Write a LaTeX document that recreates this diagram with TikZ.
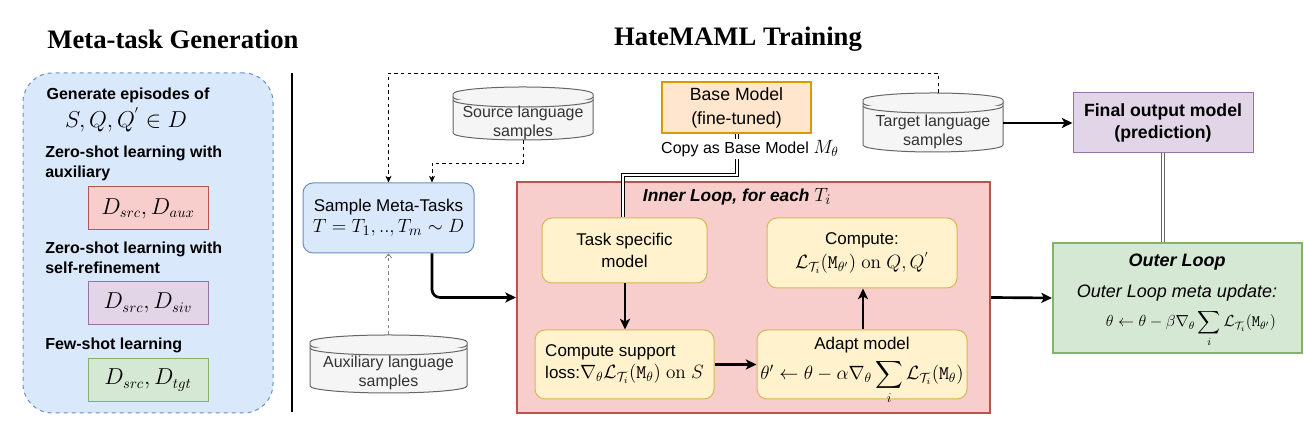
\documentclass[tikz,border=0pt]{standalone}
\usepackage[no-math]{fontspec}
\setmainfont{Liberation Sans}
\newfontfamily\titlefont{Liberation Serif}
\usepackage{amsmath}
\usetikzlibrary{arrows.meta,calc}
\definecolor{bluef}{HTML}{DAE8FC}\definecolor{blued}{HTML}{6C8EBF}
\definecolor{redf}{HTML}{F8CECC}\definecolor{redd}{HTML}{B85450}
\definecolor{purf}{HTML}{E1D5E7}\definecolor{purd}{HTML}{9673A6}
\definecolor{grnf}{HTML}{D5E8D4}\definecolor{grnd}{HTML}{82B366}
\definecolor{orgf}{HTML}{FFE6CC}\definecolor{orgd}{HTML}{D79B00}
\definecolor{yelf}{HTML}{FFF2CC}\definecolor{yeld}{HTML}{D6B656}
\definecolor{grayf}{HTML}{F5F5F5}\definecolor{grayd}{HTML}{666666}
\definecolor{grayt}{HTML}{333333}
\newcommand\dbcyl[6]{%
  \pgfmathsetmacro\cxl{#2-#4/2}\pgfmathsetmacro\cxr{#2+#4/2}%
  \pgfmathsetmacro\cyt{#3+#5/2}\pgfmathsetmacro\cyb{#3-#5/2}%
  \pgfmathsetmacro\crx{#4/2}%
  \filldraw[cylsty] (\cxl,\cyt-7) -- (\cxl,\cyb+7) arc[start angle=180,end angle=360,x radius=\crx,y radius=7] -- (\cxr,\cyt-7) arc[start angle=0,end angle=180,x radius=\crx,y radius=7] -- cycle;
  \draw[cylsty] (\cxl,\cyt-10) arc[start angle=180,end angle=360,x radius=\crx,y radius=7];
  \draw[cylsty] (\cxl,\cyt-13) arc[start angle=180,end angle=360,x radius=\crx,y radius=7];
  \node[sz={#4}{#5}, inner sep=0pt] (#1) at (#2,#3) {};
  \node[cyltext] (#1-t) at (#2,#3-9) {#6};
}
\begin{document}
\begin{tikzpicture}[x=0.75pt,y=0.75pt,
  sz/.style 2 args={minimum width=#1*0.75pt, minimum height=#2*0.75pt},
  cylsty/.style={draw=grayd, fill=grayf, line width=0.75pt},
  cyltext/.style={inner sep=0pt, align=center, text=grayt, font=\fontsize{12}{14.3}\selectfont},
  box/.style={draw, line width=0.75pt, align=center, inner sep=0pt, font=\fontsize{12.75}{16.5}\selectfont},
  ybox/.style={box, fill=yelf, draw=yeld, rounded corners=7.5pt},
  dbox/.style={box, sz={120}{43}, font=\fontsize{16}{19}\selectfont},
  lbold/.style={inner sep=0pt, font=\bfseries\fontsize{12}{15}\selectfont},
  thick arrow/.style={line width=2pt, -{Stealth[length=8pt,width=7.5pt,inset=2pt]}},
  dash arrow/.style={line width=0.6pt, dash pattern=on 2.5pt off 2.5pt, -{Stealth[length=5pt,width=4.5pt,inset=1.5pt]}},
  dbl/.style={double, double distance=2pt, line width=0.6pt}
]
\useasboundingbox (0,0) rectangle (1304,441);
% titles
\node[font=\titlefont\bfseries\fontsize{20}{24}\selectfont, inner sep=0pt] (t1) at (173,402) {Meta-task Generation};
\node[font=\titlefont\bfseries\fontsize{20}{24}\selectfont, inner sep=0pt] (t2) at (738,402) {HateMAML Training};
% left panel
\node[draw=blued, fill=bluef, dashed, line width=0.75pt, rounded corners=22pt, sz={250}{340}] (panel) at (148,198) {};
\node[lbold] (gen) at (128,346) {Generate episodes of};
\node[inner sep=0pt, font=\fontsize{16}{19}\selectfont] (gmath) at (126,321) {$S,Q,Q^{'}\in D$};
\node[lbold, anchor=west, align=left] (zs1) at (45,278) {Zero-shot learning with\\auxiliary};
\node[dbox, fill=redf, draw=redd] (daux) at (148,232.5) {$D_{src},D_{aux}$};
\node[lbold, anchor=west, align=left] (zs2) at (45,183) {Zero-shot learning with\\self-refinement};
\node[dbox, fill=purf, draw=purd] (dsiv) at (148,138) {$D_{src},D_{siv}$};
\node[lbold, anchor=west] (fs) at (45,96) {Few-shot learning};
\node[dbox, fill=grnf, draw=grnd] (dtgt) at (148,61) {$D_{src},D_{tgt}$};
% separator
\coordinate (sepT) at (292,368);
\coordinate (sepB) at (292,29);
\draw[line width=1.5pt] (sepT) -- (sepB);
% sample meta tasks
\node[box, fill=bluef, draw=blued, rounded corners=7.5pt, sz={171}{70}] (sample) at (388.5,223) {Sample Meta-Tasks\\[-1pt]{\fontsize{15}{17}\selectfont $T=T_1,..,T_m\sim D$}};
% cylinders
\dbcyl{src}{523}{327.5}{140}{53}{Source language\\samples}
\dbcyl{aux}{388.5}{77}{157}{58}{Auxiliary language\\samples}
\dbcyl{tgt}{933}{318.5}{140}{59}{Target language\\samples}
% base model
\node[box, fill=orgf, draw=orgd, line width=1.5pt, sz={149}{51}, font=\fontsize{13.25}{18}\selectfont] (base) at (736.5,333.5) {Base Model\\(fine-tuned)};
% final output
\node[box, fill=purf, draw=purd, sz={180}{60}, font=\bfseries\fontsize{13.25}{16.5}\selectfont] (final) at (1163,318) {Final output model\\(prediction)};
% inner loop
\node[box, fill=redf, draw=redd, line width=1.5pt, sz={473}{231}] (inner) at (753.5,143.5) {};
\node[inner sep=0pt, font=\bfseries\itshape\fontsize{13}{15}\selectfont] (intitle) at (737,244) {Inner Loop, for each {\fontsize{15}{15}\selectfont$T_i$}};
\node[ybox, sz={165}{65}] (task) at (624.5,190.5) {Task specific\\model};
\node[ybox, sz={190}{70}] (comp) at (862,188) {Compute:\\[2pt]{\fontsize{14}{16}\selectfont$\mathcal{L}_{\mathcal{T}_i}(\mathtt{M}_{\theta'})\ \mathrm{on}\ Q,Q^{'}$}};
\node[ybox, sz={179}{69}, align=left] (supp) at (624.5,76.5) {Compute support\\loss:{\fontsize{14}{16}\selectfont$\nabla_\theta\mathcal{L}_{\mathcal{T}_i}(\mathtt{M}_\theta)\ \mathrm{on}\ S$}};
\node[ybox, sz={210}{69}] (adapt) at (862,76.5) {};
\node[inner sep=0pt, font=\fontsize{12.75}{15}\selectfont] (adt1) at (862,96) {Adapt model};
\node[inner sep=0pt, font=\fontsize{14}{16}\selectfont, anchor=base] (adt2) at (862,61) {$\displaystyle\theta'\leftarrow\theta-\alpha\nabla_\theta\sum_i\mathcal{L}_{\mathcal{T}_i}(\mathtt{M}_\theta)$};
% outer loop
\node[box, fill=grnf, draw=grnd, line width=1.5pt, sz={249}{110}] (outer) at (1177.5,143) {};
\node[inner sep=0pt, font=\bfseries\itshape\fontsize{13.5}{16}\selectfont] (ot1) at (1177,179) {Outer Loop};
\node[inner sep=0pt, font=\itshape\fontsize{13.5}{16}\selectfont] (ot2) at (1177,148) {Outer Loop meta update:};
\node[inner sep=0pt, font=\fontsize{12}{14}\selectfont, anchor=base] (ot3) at (1191,114) {$\displaystyle\theta\leftarrow\theta-\beta\nabla_\theta\sum_i\mathcal{L}_{\mathcal{T}_i}(\mathtt{M}_{\theta'})$};
% connectors
\draw[thick arrow] (tgt.east |- final.west) -- (final.west);
\draw[thick arrow] (inner.east) -- (outer.west);
\draw[thick arrow, rounded corners=6pt] ($(sample.south)+(43.5,0)$) |- (inner.west);
\coordinate (srcBend) at (523,278);
\draw[dash arrow] (src.south) -- (srcBend) -| ($(sample.north)+(43.5,0)$);
\coordinate (tgtTop) at (938,368);
\draw[dash arrow] (tgt.north -| tgtTop) -- (tgtTop) -| (sample.north);
\draw[line width=0.6pt, gray, dash pattern=on 2.5pt off 2.5pt, -{Straight Barb[length=3pt,width=5pt]}] (aux.north) -- (sample.south);
\coordinate (cp1) at (737,266);
\coordinate (cp2) at (623,266);
\draw[dbl] (base.south -| cp1) -- (cp1) -- (cp2) -- (task.north -| cp2);
\node[fill=white, inner sep=1pt, font=\fontsize{12}{14}\selectfont] (copylbl) at (750,292) {Copy as Base Model {\fontsize{14}{16}\selectfont$M_\theta$}};
\draw[dbl, draw=black!60] (final.south) -- (outer.north -| final.south);
\draw[thick arrow] (task.south -| 625,0) -- (supp.north -| 625,0);
\draw[thick arrow] (supp.east) -- (adapt.west);
\draw[thick arrow] (adapt.north -| 863,0) -- (comp.south -| 863,0);
\end{tikzpicture}
\end{document}
